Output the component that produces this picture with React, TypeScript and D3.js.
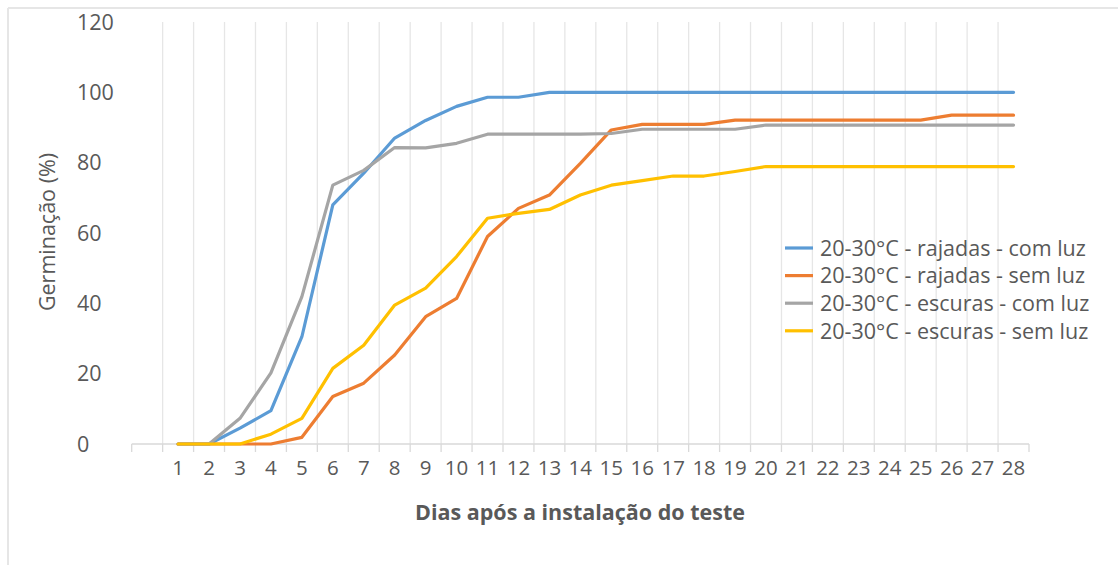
import * as d3 from "d3";

const days = ["", "1", "2", "3", "4", "5", "6", "7", "8", "9", "10", "11", "12", "13", "14", "15", "16", "17", "18", "19", "20", "21", "22", "23", "24", "25", "26", "27", "28"];
const yTicks = [0, 20, 40, 60, 80, 100, 120];

const rajadasComLuz = [0, 0, 4.5, 9.5, 30.5, 68, 77, 87, 92, 96, 98.6, 98.6, 100, 100, 100, 100, 100, 100, 100, 100, 100, 100, 100, 100, 100, 100, 100, 100];
const rajadasSemLuz = [0, 0, 0, 0, 1.9, 13.5, 17.3, 25.3, 36.2, 41.4, 59, 67, 70.8, 79.8, 89.3, 90.9, 90.9, 90.9, 92.1, 92.1, 92.1, 92.1, 92.1, 92.1, 92.1, 93.5, 93.5, 93.5];
const escurasComLuz = [0, 0, 7.3, 20.2, 41.9, 73.6, 77.8, 84.3, 84.2, 85.5, 88.1, 88.1, 88.1, 88.1, 88.3, 89.5, 89.5, 89.5, 89.5, 90.7, 90.7, 90.7, 90.7, 90.7, 90.7, 90.7, 90.7, 90.7];
const escurasSemLuz = [0, 0, 0, 2.8, 7.3, 21.5, 28.1, 39.5, 44.3, 53.3, 64.2, 65.6, 66.7, 70.8, 73.6, 74.9, 76.2, 76.2, 77.5, 78.9, 78.9, 78.9, 78.9, 78.9, 78.9, 78.9, 78.9, 78.9];

const seriesNames = [
  "20-30°C - rajadas - com luz",
  "20-30°C - rajadas - sem luz",
  "20-30°C - escuras - com luz",
  "20-30°C - escuras - sem luz",
];
const seriesValues = [rajadasComLuz, rajadasSemLuz, escurasComLuz, escurasSemLuz];
const colors = ["#5B9BD5", "#ED7D31", "#A5A5A5", "#FFC000"];

const W = 1118;
const H = 565;
const FONT = "'Open Sans', sans-serif";
const TEXT = "#595959";

export default function App() {
  const x = d3.scaleBand<string>().domain(days).range([131.7, 1029]);
  const y = d3.scaleLinear().domain([0, 120]).range([444, 22]);
  const bw = x.bandwidth();

  // category boundaries
  const bounds = d3.range(days.length + 1).map((i) => x.range()[0] + i * bw);

  const line = d3
    .line<number>()
    .x((_, i) => (x(days[i + 1]) || 0) + bw / 2)
    .y((d) => y(d));

  return (
    <svg
      width={W}
      height={H}
      style={{ position: "absolute", left: 0, top: 0, fontFamily: FONT }}
    >
      <rect width={W} height={H} fill="#fff" />
      {/* frame */}
      <line x1={8} x2={W} y1={8} y2={8} stroke="#e6e6e6" strokeWidth={2} />
      <line x1={8} x2={8} y1={8} y2={H} stroke="#e6e6e6" strokeWidth={2} />

      {/* vertical gridlines */}
      {bounds.slice(1, -1).map((b, i) => (
        <line key={"g" + i} x1={b} x2={b} y1={y(120)} y2={y(0)} stroke="#e6e6e6" strokeWidth={1.3} />
      ))}
      {/* tick marks */}
      {bounds.map((b, i) => (
        <line key={"t" + i} x1={b} x2={b} y1={y(0)} y2={y(0) + 8} stroke="#d9d9d9" strokeWidth={1.3} />
      ))}
      <line x1={bounds[0]} x2={bounds[bounds.length - 1]} y1={y(0)} y2={y(0)} stroke="#d9d9d9" strokeWidth={1.3} />

      {/* y tick labels */}
      {yTicks.map((t) => (
        <text key={"y" + t} x={77} y={y(t)} dy="0.36em" fontSize={21.5} fill={TEXT}>
          {t}
        </text>
      ))}
      {/* x tick labels */}
      {days.map((d) => (
        <text
          key={"x" + d}
          x={(x(d) || 0) + bw / 2}
          y={475}
          textAnchor="middle"
          fontSize={20.5}
          fill={TEXT}
        >
          {d}
        </text>
      ))}

      {/* axis titles */}
      <text x={580} y={520} textAnchor="middle" fontSize={21.5} fontWeight="bold" fill={TEXT}>
        Dias após a instalação do teste
      </text>
      <text
        transform={`translate(55,232) rotate(-90)`}
        textAnchor="middle"
        fontSize={21.5}
        fill={TEXT}
      >
        Germinação (%)
      </text>

      {/* series */}
      {seriesValues.map((vals, i) => (
        <path
          key={"s" + i}
          d={line(vals) || ""}
          fill="none"
          stroke={colors[i]}
          strokeWidth={3.2}
          strokeLinejoin="round"
          strokeLinecap="round"
        />
      ))}

      {/* legend */}
      {seriesNames.map((name, i) => (
        <g key={"l" + i} transform={`translate(785,${248 + i * 27.6})`}>
          <line x1={0} x2={28} y1={0} y2={0} stroke={colors[i]} strokeWidth={3.2} />
          <text x={35} y={0} dy="0.36em" fontSize={21.5} fill={TEXT}>
            {name}
          </text>
        </g>
      ))}
    </svg>
  );
}
